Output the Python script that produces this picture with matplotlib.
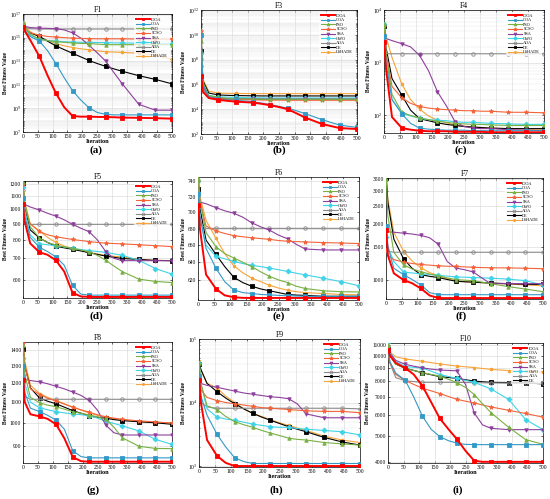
import numpy as np
import matplotlib.pyplot as plt
from matplotlib.ticker import FixedLocator, NullLocator, LogLocator, LogFormatterMathtext, FixedFormatter

plt.rcParams['font.family'] = ['Liberation Serif', 'DejaVu Serif']
plt.rcParams['mathtext.fontset'] = 'stix'

algos = ["IOOA", "OOA", "PSO", "SCSO", "SSA", "GWO", "AOA", "DE", "LSHADE"]
iters = [1, 6, 25, 56, 83, 111, 139, 167, 195, 222, 250, 278, 305, 333, 389, 444, 500]
mark_idx = [0, 3, 5, 7, 9, 11, 13, 14, 15, 16]

# values (rows follow algos)
# F1, F3, F4, F9 stored as log10(best fitness)
f1_log = [
    [15.9, 15.6, 14.8, 13.4, 11.8, 10.3, 9.1, 8.35, 8.3, 8.3, 8.28, 8.27, 8.25, 8.22, 8.2, 8.17, 8.13],
    [15.8, 15.6, 15.1, 14.7, 13.9, 12.8, 11.6, 10.5, 9.7, 9.05, 8.65, 8.5, 8.45, 8.45, 8.45, 8.45, 8.45],
    [16.3, 16.0, 15.3, 14.85, 14.75, 14.66, 14.6, 14.55, 14.5, 14.5, 14.45, 14.4, 14.4, 14.4, 14.4, 14.4, 14.4],
    [16.1, 15.8, 15.4, 15.2, 15.1, 15.05, 15.0, 14.95, 14.93, 14.92, 14.9, 14.9, 14.9, 14.9, 14.88, 14.88, 14.88],
    [16.0, 15.95, 15.85, 15.8, 15.78, 15.75, 15.65, 15.4, 14.95, 14.35, 13.7, 13.0, 12.05, 11.1, 9.34, 8.85, 8.85],
    [16.1, 15.8, 15.2, 14.85, 14.75, 14.7, 14.65, 14.62, 14.6, 14.6, 14.58, 14.58, 14.55, 14.55, 14.52, 14.52, 14.5],
    [16.2, 15.9, 15.75, 15.73, 15.73, 15.73, 15.73, 15.73, 15.73, 15.73, 15.73, 15.73, 15.73, 15.73, 15.73, 15.73, 15.73],
    [15.9, 15.7, 15.4, 15.1, 14.7, 14.3, 13.98, 13.67, 13.36, 13.06, 12.8, 12.56, 12.35, 12.15, 11.77, 11.46, 11.08],
    [16.2, 16.0, 15.5, 15.05, 14.75, 14.5, 14.3, 14.16, 14.05, 13.97, 13.88, 13.8, 13.78, 13.75, 13.67, 13.53, 13.14],
]
f3_log = [
    [6.67, 5.4, 4.9, 4.75, 4.68, 4.61, 4.57, 4.53, 4.43, 4.32, 4.17, 4.0, 3.68, 3.33, 2.8, 2.48, 2.4],
    [10.0, 6.0, 5.0, 4.8, 4.76, 4.72, 4.66, 4.59, 4.49, 4.37, 4.23, 4.08, 3.88, 3.65, 3.15, 2.72, 2.53],
    [9.47, 6.2, 5.1, 4.95, 4.88, 4.85, 4.83, 4.82, 4.8, 4.8, 4.8, 4.8, 4.8, 4.8, 4.8, 4.8, 4.8],
    [10.27, 6.0, 4.95, 4.85, 4.8, 4.78, 4.76, 4.75, 4.74, 4.73, 4.73, 4.72, 4.72, 4.72, 4.72, 4.72, 4.72],
    [8.0, 5.8, 5.0, 4.88, 4.85, 4.83, 4.82, 4.8, 4.8, 4.8, 4.8, 4.8, 4.8, 4.8, 4.8, 4.8, 4.8],
    [8.5, 6.0, 5.1, 5.0, 4.97, 4.95, 4.93, 4.92, 4.91, 4.9, 4.9, 4.9, 4.9, 4.9, 4.9, 4.9, 4.9],
    [7.5, 5.6, 5.0, 4.9, 4.88, 4.87, 4.86, 4.86, 4.85, 4.85, 4.85, 4.85, 4.85, 4.85, 4.85, 4.85, 4.85],
    [8.67, 6.3, 5.3, 5.15, 5.12, 5.1, 5.09, 5.08, 5.07, 5.07, 5.07, 5.07, 5.07, 5.07, 5.07, 5.07, 5.07],
    [8.27, 6.4, 5.45, 5.3, 5.28, 5.27, 5.26, 5.26, 5.25, 5.25, 5.25, 5.25, 5.25, 5.25, 5.25, 5.25, 5.25],
]
f4_log = [
    [3.39, 2.9, 1.97, 1.76, 1.73, 1.71, 1.7, 1.7, 1.7, 1.69, 1.69, 1.69, 1.69, 1.68, 1.68, 1.68, 1.68],
    [3.5, 3.0, 2.3, 2.03, 1.85, 1.76, 1.74, 1.73, 1.72, 1.72, 1.72, 1.71, 1.71, 1.71, 1.71, 1.71, 1.71],
    [3.73, 3.2, 2.4, 2.06, 2.0, 1.95, 1.92, 1.89, 1.87, 1.85, 1.84, 1.83, 1.83, 1.82, 1.81, 1.81, 1.81],
    [3.7, 3.2, 2.55, 2.33, 2.23, 2.17, 2.14, 2.12, 2.11, 2.1, 2.09, 2.09, 2.08, 2.08, 2.06, 2.06, 2.05],
    [3.48, 3.46, 3.42, 3.36, 3.3, 3.14, 2.85, 2.45, 2.18, 1.88, 1.79, 1.76, 1.75, 1.75, 1.73, 1.72, 1.71],
    [3.73, 3.2, 2.3, 2.04, 1.99, 1.95, 1.92, 1.91, 1.9, 1.88, 1.87, 1.87, 1.86, 1.85, 1.84, 1.83, 1.83],
    [3.3, 3.17, 3.17, 3.17, 3.17, 3.17, 3.17, 3.17, 3.17, 3.17, 3.17, 3.17, 3.17, 3.17, 3.17, 3.17, 3.17],
    [3.7, 3.3, 2.7, 2.38, 2.1, 1.94, 1.9, 1.86, 1.83, 1.81, 1.79, 1.78, 1.77, 1.76, 1.75, 1.75, 1.75],
    [3.75, 3.5, 3.1, 2.59, 2.3, 2.12, 1.99, 1.91, 1.86, 1.82, 1.8, 1.78, 1.77, 1.76, 1.75, 1.74, 1.74],
]
f5 = [
    [1038, 920, 780, 731, 718, 690, 636, 545, 531, 529, 529, 529, 529, 529, 529, 529, 529],
    [1081, 960, 815, 758, 735, 707, 666, 575, 540, 536, 536, 536, 536, 536, 536, 536, 536],
    [1220, 1050, 880, 811, 785, 770, 760, 752, 743, 734, 715, 690, 662, 636, 602, 592, 587],
    [1200, 1030, 898, 850, 830, 818, 810, 802, 796, 790, 785, 781, 779, 777, 772, 767, 762],
    [1043, 1035, 1015, 993, 970, 950, 925, 895, 870, 849, 800, 735, 700, 688, 688, 688, 688],
    [1170, 1000, 830, 778, 772, 767, 760, 752, 746, 740, 735, 731, 723, 715, 690, 650, 624],
    [1150, 900, 895, 895, 895, 895, 895, 895, 895, 895, 895, 895, 895, 895, 895, 895, 895],
    [1210, 1020, 860, 811, 785, 764, 755, 747, 738, 729, 720, 711, 705, 699, 694, 689, 688],
    [1220, 1060, 900, 853, 815, 785, 765, 752, 740, 731, 722, 715, 710, 707, 694, 690, 688],
]
f6 = [
    [710, 680, 626, 610, 603, 601, 600.3, 600.2, 600.2, 600.2, 600.2, 600.2, 600.2, 600.2, 600.2, 600.2, 600.2],
    [723, 695, 656, 633, 618, 609, 606, 605, 604, 603.5, 603, 602.5, 602.3, 602, 602, 602, 602],
    [745, 715, 675, 658, 650, 645, 640, 635, 629, 624, 620, 617, 613, 610.5, 608, 607, 606.7],
    [740, 715, 683, 677, 674, 671.4, 670, 668.8, 667.8, 666.9, 665.5, 664.6, 664.2, 663.8, 663, 662.5, 661.9],
    [714, 713, 711, 706, 702, 699, 694, 687, 682, 678, 672, 667.6, 661, 655.4, 654.3, 654.3, 654.3],
    [740, 695, 660, 646.7, 644, 641, 638.5, 636.4, 635, 633.3, 631.5, 629.5, 627.5, 625.7, 621.9, 618.1, 613.5],
    [725, 685, 680.2, 680.2, 680.2, 680.2, 680.2, 680.2, 680.2, 680.2, 680.2, 680.2, 680.2, 680.2, 680.2, 680.2, 680.2],
    [730, 705, 666, 649, 635, 623, 617, 613, 610, 608, 606, 604, 603.3, 603, 602, 602, 602],
    [735, 720, 690, 668, 650, 636, 628, 622, 618, 614, 611, 608.6, 607, 606, 605, 604, 603.6],
]
f7 = [
    [1850, 1350, 1080, 994, 955, 895, 820, 794, 794, 794, 794, 794, 794, 794, 794, 794, 794],
    [1950, 1500, 1150, 1063, 1000, 935, 850, 828, 828, 828, 828, 828, 828, 828, 828, 828, 828],
    [3500, 2200, 1400, 1200, 1140, 1104, 1070, 1047, 1020, 1000, 992, 986, 968, 950, 916, 888, 860],
    [1450, 1350, 1280, 1242, 1220, 1206, 1195, 1185, 1180, 1176, 1170, 1164, 1160, 1157, 1155, 1150, 1144],
    [1820, 1810, 1800, 1778, 1760, 1730, 1680, 1546, 1250, 1153, 1130, 1098, 1020, 950, 950, 950, 950],
    [1700, 1500, 1250, 1095, 1085, 1074, 1063, 1053, 1043, 1033, 1029, 1025, 1021, 1017, 1005, 986, 935],
    [1450, 1420, 1403, 1403, 1403, 1403, 1403, 1403, 1403, 1403, 1403, 1403, 1403, 1403, 1403, 1403, 1403],
    [3530, 2600, 1650, 1293, 1150, 1063, 1040, 1025, 1000, 979, 972, 968, 962, 957, 950, 943, 940],
    [3450, 2700, 1800, 1417, 1260, 1157, 1090, 1047, 1010, 986, 975, 968, 962, 957, 945, 935, 925],
]
f8 = [
    [1220, 1100, 1040, 1030, 1018, 993, 930, 853, 837, 835, 835, 835, 835, 835, 835, 835, 835],
    [1300, 1150, 1070, 1053, 1035, 1012, 970, 878, 855, 850, 850, 850, 850, 850, 850, 850, 850],
    [1433, 1250, 1125, 1097, 1085, 1077, 1065, 1053, 1045, 1037, 1028, 1016, 980, 933, 897, 888, 887],
    [1450, 1300, 1170, 1140, 1120, 1106, 1090, 1075, 1062, 1050, 1038, 1028, 1022, 1016, 1009, 1004, 999],
    [1224, 1222, 1216, 1209, 1198, 1184, 1170, 1153, 1135, 1109, 1060, 989, 955, 945, 945, 945, 945],
    [1350, 1200, 1100, 1072, 1062, 1053, 1047, 1042, 1038, 1034, 1022, 1007, 997, 986, 963, 926, 905],
    [1250, 1130, 1115, 1115, 1115, 1115, 1115, 1115, 1115, 1115, 1115, 1115, 1115, 1115, 1115, 1115, 1115],
    [1405, 1300, 1175, 1121, 1105, 1092, 1075, 1058, 1045, 1032, 1026, 1021, 1015, 1010, 1005, 1000, 993],
    [1445, 1330, 1190, 1145, 1125, 1109, 1092, 1075, 1060, 1047, 1035, 1025, 1019, 1014, 1004, 1002, 999],
]
f9_log = [
    [4.36, 4.0, 3.41, 3.16, 3.05, 3.0, 3.0, 3.0, 3.0, 3.0, 3.0, 3.0, 3.0, 3.0, 3.0, 3.0, 3.0],
    [4.41, 4.1, 3.8, 3.5, 3.3, 3.13, 3.07, 3.04, 3.04, 3.04, 3.04, 3.04, 3.04, 3.04, 3.04, 3.04, 3.04],
    [4.62, 4.3, 3.95, 3.89, 3.78, 3.7, 3.65, 3.61, 3.56, 3.52, 3.48, 3.44, 3.42, 3.41, 3.37, 3.35, 3.33],
    [4.3, 4.2, 4.08, 4.03, 4.0, 3.98, 3.96, 3.94, 3.92, 3.91, 3.9, 3.89, 3.88, 3.87, 3.86, 3.86, 3.84],
    [4.31, 4.3, 4.27, 4.24, 4.21, 4.18, 4.15, 4.13, 4.11, 4.09, 4.08, 4.06, 3.98, 3.82, 3.76, 3.76, 3.76],
    [4.63, 4.3, 3.9, 3.77, 3.74, 3.72, 3.69, 3.66, 3.64, 3.62, 3.61, 3.61, 3.59, 3.58, 3.56, 3.54, 3.49],
    [4.25, 4.0, 3.93, 3.91, 3.91, 3.91, 3.91, 3.91, 3.91, 3.91, 3.91, 3.91, 3.91, 3.91, 3.91, 3.91, 3.9],
    [4.6, 4.52, 4.3, 4.17, 4.07, 3.98, 3.9, 3.83, 3.77, 3.72, 3.67, 3.62, 3.58, 3.54, 3.45, 3.38, 3.33],
    [4.65, 4.5, 4.3, 4.23, 4.1, 4.0, 3.9, 3.83, 3.78, 3.73, 3.68, 3.64, 3.6, 3.56, 3.47, 3.41, 3.37],
]
f10 = [
    [10500, 10000, 9390, 8980, 8500, 7700, 6700, 5820, 5300, 4870, 4400, 4040, 4000, 4000, 4000, 4000, 4000],
    [10380, 9500, 8600, 8070, 7000, 5930, 5300, 4970, 4800, 4700, 4650, 4640, 4640, 4640, 4640, 4640, 4640],
    [10940, 10000, 9300, 8955, 8800, 8640, 8500, 8370, 8150, 7920, 7600, 7150, 6600, 6100, 5390, 4846, 4650],
    [10200, 9400, 8500, 8070, 7800, 7550, 7380, 7210, 7030, 6860, 6750, 6650, 6530, 6420, 6240, 6070, 5880],
    [10650, 10200, 9600, 9270, 9130, 9000, 8900, 8830, 8800, 8770, 7800, 6100, 5500, 5340, 5280, 5280, 5280],
    [11250, 10400, 9500, 9100, 9040, 8980, 8750, 8490, 8350, 8220, 8080, 7940, 7720, 7490, 6860, 5760, 5280],
    [10500, 9400, 8270, 8050, 7990, 7940, 7940, 7940, 7940, 7940, 7930, 7920, 7910, 7900, 7890, 7890, 7880],
    [10600, 10000, 9300, 8960, 8800, 8620, 8480, 8340, 8280, 8220, 8120, 8030, 7980, 7940, 7920, 7900, 7840],
    [10800, 10300, 9900, 9720, 9620, 9520, 9410, 9310, 9220, 9140, 9080, 9020, 8950, 8880, 8790, 8720, 8680],
]

colors = ["#ff0000", "#3399c6", "#78b043", "#f4633a", "#8e3f9c", "#3fd3e8", "#8a8a8a", "#000000", "#f7a43a"]
markers = ["s", "s", "^", "*", "v", "D", "o", "s", (6, 2, 0)]

W, H = 550, 499
fig = plt.figure(figsize=(W / 100, H / 100), dpi=100)


def box(l, r, t, b):
    return [l / W, 1 - b / H, (r - l) / W, (b - t) / H]


def draw(rect, title, vals, ylim, yticks, decades, nleg=9):
    ax = fig.add_axes(box(*rect))
    for i, name in enumerate(algos):
        ax.plot(iters, vals[i], color=colors[i], marker=markers[i], markevery=mark_idx,
                ms=3.2 if markers[i] == "*" else 2.5,
                mfc="none" if name == "AOA" else colors[i], mew=0.6,
                lw=1.4 if i == 0 else 0.8, label=name, zorder=10 - i)
    ax.set_yscale("log")
    ax.set_xlim(0, 500)
    ax.set_ylim(*ylim)
    ax.set_xticks(range(0, 501, 50))
    ax.yaxis.set_major_locator(FixedLocator(yticks))
    if decades:
        ax.yaxis.set_major_formatter(LogFormatterMathtext())
        ax.yaxis.set_minor_locator(LogLocator(subs=np.arange(2, 10), numticks=50))
        ax.grid(which="minor", axis="y", color="#e4e4e4", lw=0.3)
    else:
        ax.yaxis.set_major_formatter(FixedFormatter([str(v) for v in yticks]))
        ax.yaxis.set_minor_locator(NullLocator())
    ax.grid(which="major", color="#d4d4d4", lw=0.4)
    ax.tick_params(which="both", direction="in", length=1.5, width=0.4, labelsize=4, pad=1.2,
                   top=True, right=True)
    ax.tick_params(which="minor", length=0.8)
    for s in ax.spines.values():
        s.set_linewidth(0.5)
    ax.set_title(title, fontsize=5.5, pad=1.5)
    ax.set_xlabel("Iteration", fontsize=4.5, fontweight="bold", labelpad=0.5)
    ax.set_ylabel("Best Fitness Value", fontsize=4, fontweight="bold", labelpad=1.5)
    h, lab = ax.get_legend_handles_labels()
    leg = ax.legend(h[:nleg], lab[:nleg], loc="upper right", fontsize=3.1, handlelength=3.2,
                    labelspacing=0.12, borderpad=0.4, handletextpad=0.4, framealpha=0.75,
                    edgecolor="none", fancybox=False, markerscale=0.8)
    leg.set_zorder(20)
    return ax


dec = lambda a: 10 ** np.array(a)

draw((22.7, 172, 14, 132), "F1", dec(f1_log), (1e7, 1e17), [1e7, 1e9, 1e11, 1e13, 1e15, 1e17], True)
draw((201, 357, 10, 134), "F3", dec(f3_log), (1e2, 1e12), [1e2, 1e4, 1e6, 1e8, 1e10, 1e12], True)
draw((384, 544, 10, 133), "F4", dec(f4_log), (10 ** 1.667, 1e4), [1e2, 1e3, 1e4], True)
draw((22.7, 172, 181, 298), "F5", f5, (525, 1225), [600, 700, 800, 900, 1000, 1100, 1200], False)
draw((198, 359, 177, 300), "F6", f6, (598, 746), [620, 640, 660, 680, 700, 720, 740], False)
draw((386, 543, 178, 299), "F7", f7, (785, 3530), [1000, 1500, 2000, 2500, 3000, 3500], False)
draw((23, 172, 342, 463), "F8", f8, (830, 1454), [900, 1000, 1100, 1200, 1300, 1400], False)
draw((199, 360, 339, 467), "F9", dec(f9_log), (10 ** 2.985, 1e5), [1e3, 1e4, 1e5], True)
draw((388, 543, 343, 463), "F10", f10, (3960, 11150),
     [4000, 5000, 6000, 7000, 8000, 9000, 10000, 11000], False, nleg=8)

panel_labels = ["(a)", "(b)", "(c)", "(d)", "(e)", "(f)", "(g)", "(h)", "(i)"]
label_xy = [(96, 150), (279, 150), (461, 150), (96, 316), (279, 316), (461, 316),
            (93, 490), (276, 490), (458, 490)]
for txt, (x, y) in zip(panel_labels, label_xy):
    fig.text(x / W, 1 - y / H, txt, ha="center", va="center", fontsize=8, fontweight="bold")

fig.savefig("out.png", dpi=100)
